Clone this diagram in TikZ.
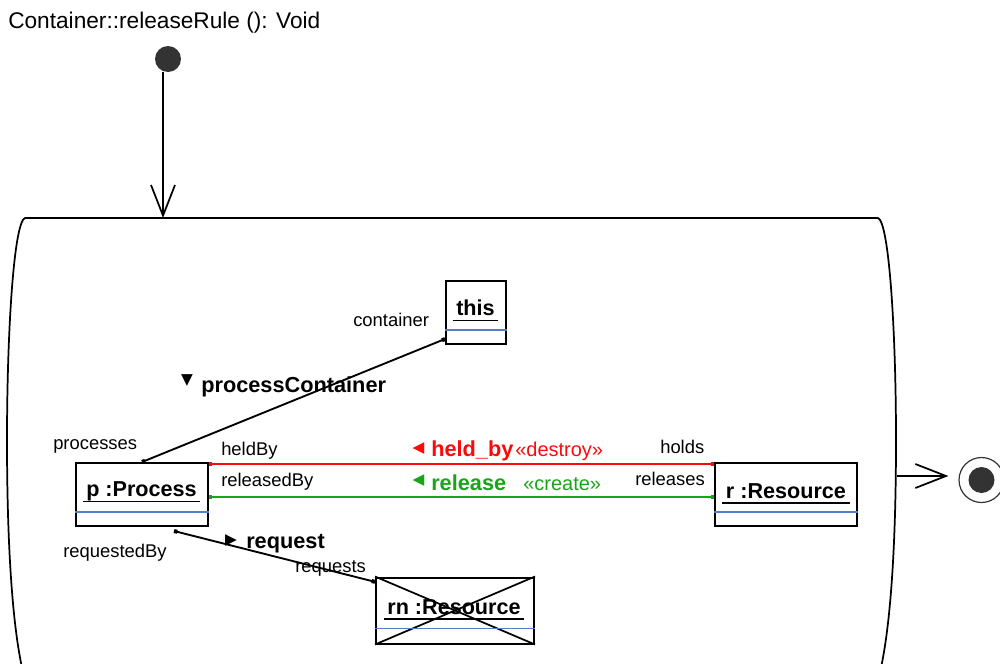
\documentclass[tikz,border=0pt]{standalone}
\usepackage{fontspec}
\setmainfont{Liberation Sans}
\newfontfamily\symfont{DejaVu Sans}
\usetikzlibrary{arrows.meta}

\definecolor{linkred}{RGB}{250,10,10}
\definecolor{linkgreen}{RGB}{25,165,25}
\definecolor{sepblue}{RGB}{85,125,200}
\definecolor{dotgray}{RGB}{51,51,51}

\newcommand{\objul}[1]{\setbox0=\hbox{\,#1\,}\rlap{\rule[-4.2pt]{\wd0}{1.1pt}}\box0}

\tikzset{
  objbox/.style={draw, line width=1.5pt, inner sep=0pt},
  objname/.style={font=\bfseries\fontsize{16.2}{19}\selectfont, anchor=base, inner sep=0pt},
  sepline/.style={draw=sepblue, line width=0.8pt},
  role/.style={font=\fontsize{13.8}{16}\selectfont, anchor=base west, inner sep=0pt},
  assoc/.style={font=\bfseries\fontsize{16.3}{19}\selectfont, anchor=base west, inner sep=0pt},
  stereo/.style={font=\fontsize{15}{18}\selectfont, anchor=base west, inner sep=0pt},
  dir/.style={font=\symfont\fontsize{11.5}{12}\selectfont, inner sep=0pt},
  link/.style={line width=1.4pt, {Square[length=2.5pt,width=3pt]}-{Square[length=2.5pt,width=3pt]}},
  flow/.style={line width=1.3pt, -{Straight Barb[length=23pt,width=18pt]}},
  dot/.style={circle, fill=dotgray, inner sep=0pt, minimum size=19.5pt},
}

\begin{document}
\begin{tikzpicture}[x=0.75pt,y=-0.75pt]
\useasboundingbox (0,0) rectangle (1000,664);

\node[anchor=base west, inner sep=0pt, font=\fontsize{17}{20}\selectfont] (title) at (8,28) {Container::releaseRule (): Void};

% start and end
\node[dot] (init) at (168,59) {};
\node[circle, draw=dotgray, line width=0.9pt, inner sep=0pt, minimum size=33.75pt] (final) at (981.5,480) {};
\node[dot] (finaldot) at (final) {};

% activity
\draw[line width=1.3pt] (25,680) .. controls (14,640) and (7,560) .. (7,440)
  .. controls (7,330) and (14,222) .. (25,218) -- (878,218)
  .. controls (889,222) and (896,330) .. (896,440)
  .. controls (896,560) and (889,640) .. (878,680);
\coordinate (entry) at (163,218);
\coordinate (exit) at (897,476);
\draw[flow] (init.south -| entry) -- (entry);
\draw[flow, shorten >=7.5pt] (exit) -- (exit -| final.west);

% objects
\node[objbox, minimum width=45pt, minimum height=47.25pt] (this) at (476,312.5) {};
\node[objname] (thisname) at (475.5,315.7) {\objul{this}};
\draw[sepline] ([yshift=11.25pt]this.south west) -- ([yshift=11.25pt]this.south east);

\node[objbox, minimum width=99pt, minimum height=47.25pt] (p) at (142,494.5) {};
\node[objname] (pname) at (141.5,496.7) {\objul{p :Process}};
\draw[sepline] ([yshift=11.25pt]p.south west) -- ([yshift=11.25pt]p.south east);

\node[objbox, minimum width=106.5pt, minimum height=47.25pt] (r) at (786,494.5) {};
\node[objname] (rname) at (786,498) {\objul{r :Resource}};
\draw[sepline] ([yshift=11.25pt]r.south west) -- ([yshift=11.25pt]r.south east);

\node[objbox, minimum width=118.5pt, minimum height=49.5pt] (rn) at (455,610.5) {};
\draw[line width=1.3pt] (rn.north west) -- (rn.south east);
\draw[line width=1.3pt] (rn.south west) -- (rn.north east);
\node[objname] (rnname) at (454,614) {\objul{rn :Resource}};
\draw[sepline] ([yshift=12pt]rn.south west) -- ([yshift=12pt]rn.south east);

% links
\draw[link] (p.north) -- ([yshift=4.5pt]this.south west);
\draw[link, linkred] ([yshift=-1.5pt]p.north east) -- ([yshift=-1.5pt]r.north west);
\draw[link, linkgreen] ([yshift=-1.6pt]p.east) -- ([yshift=-1.6pt]r.west);
\draw[link] ([xshift=24pt,yshift=-3pt]p.south) -- ([yshift=-4pt]rn.north west);

% labels
\node[role] (container) at (353,326) {container};
\node[role] (processes) at (53,449) {processes};
\node[dir] (pcdir) at (187,381) {▼};
\node[assoc] (pclabel) at (201,392) {processContainer};

\node[role] (heldby) at (221,455) {heldBy};
\node[role] (holds) at (660,453) {holds};
\node[dir, linkred] (hbdir) at (418.5,449) {◀};
\node[assoc, linkred] (hblabel) at (431,456.7) {held\_by};
\node[stereo, linkred] (hbstereo) at (515,456.5) {«destroy»};

\node[role] (releasedby) at (221,486) {releasedBy};
\node[role] (releases) at (635,485) {releases};
\node[dir, linkgreen] (rldir) at (418.5,481) {◀};
\node[assoc, linkgreen] (rllabel) at (431,490) {release};
\node[stereo, linkgreen] (rlstereo) at (523,490) {«create»};

\node[role] (requestedby) at (63,557) {requestedBy};
\node[role] (requests) at (295,572) {requests};
\node[dir] (rqdir) at (231,541) {▶};
\node[assoc] (rqlabel) at (246,548.5) {request};
\end{tikzpicture}
\end{document}
